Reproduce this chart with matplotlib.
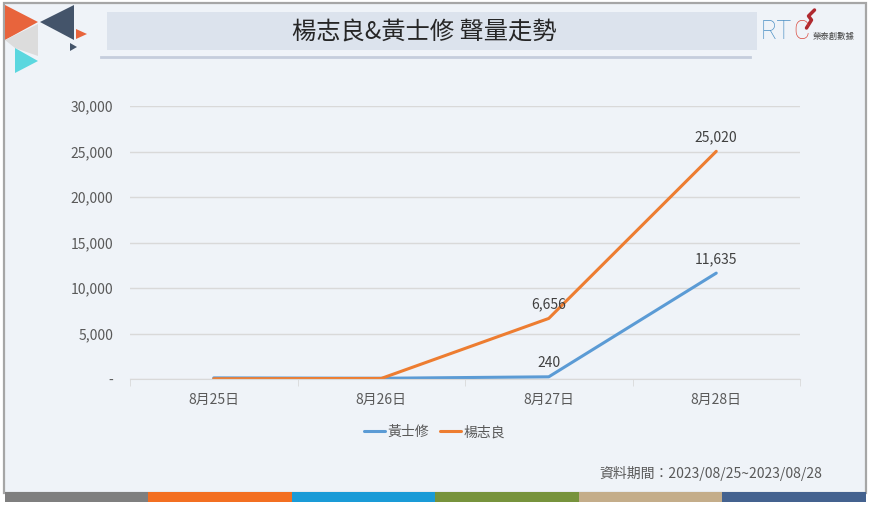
import matplotlib
matplotlib.use("Agg")
import matplotlib.pyplot as plt
from matplotlib.patches import Rectangle, Polygon
from matplotlib.ticker import FuncFormatter, FixedLocator

plt.rcParams['font.family'] = ['Noto Sans CJK TC', 'DejaVu Sans']

title = "楊志良&黃士修 聲量走勢"
categories = ["8月25日", "8月26日", "8月27日", "8月28日"]
series_names = ["黃士修", "楊志良"]
huang = [120, 80, 240, 11635]
yang = [30, 60, 6656, 25020]
footer = "資料期間：2023/08/25~2023/08/28"
stripe_colors = ["#7f7f7f", "#f36f21", "#1a9bd7", "#77933c", "#c4ad8a", "#44628f"]

W, H = 870, 505
fig = plt.figure(figsize=(W / 100, H / 100), dpi=100, facecolor="white")

bg = fig.add_axes([0, 0, 1, 1], zorder=0)
bg.set_xlim(0, W)
bg.set_ylim(H, 0)
bg.axis("off")

# background panel
bg.add_patch(Rectangle((4, 3), 862, 490, facecolor="#eff3f8", edgecolor="#a6a6a6", lw=1.6))
# bottom stripes
sx = 5
sw = (866 - 5) / len(stripe_colors)
for i, c in enumerate(stripe_colors):
    bg.add_patch(Rectangle((sx + i * sw, 492), sw, 10, facecolor=c, edgecolor="none"))

# title box
bg.add_patch(Rectangle((107, 12), 650, 38, facecolor="#dce3ed", edgecolor="none"))
bg.plot([101, 750], [57, 57], color="#c5cddc", lw=2)
bg.text(424, 32, title, ha="center", va="center", fontsize=17.5, color="#262626")

# logo top-left
bg.add_patch(Polygon([(5, 5), (5, 40), (38, 22)], closed=True, facecolor="#e8643c", edgecolor="none"))
bg.add_patch(Polygon([(40, 22), (74, 5), (74, 40)], closed=True, facecolor="#44546a", edgecolor="none"))
bg.add_patch(Polygon([(5, 40), (38, 24), (38, 56), (15, 48)], closed=True, facecolor="#dcdcdc", edgecolor="none"))
bg.add_patch(Polygon([(15, 48), (15, 73), (38, 61)], closed=True, facecolor="#5bd7df", edgecolor="none"))
bg.add_patch(Polygon([(76, 29), (76, 39), (87, 34)], closed=True, facecolor="#e8643c", edgecolor="none"))
bg.add_patch(Polygon([(70, 43), (70, 51), (77, 47)], closed=True, facecolor="#44546a", edgecolor="none"))

# logo top-right
rt = bg.text(761, 32, "RT", ha="left", va="center", fontsize=18, color="#4a8fc4",
             family=["Roboto", "DejaVu Sans"], fontweight="light", zorder=5)
renderer = fig.canvas.get_renderer()
ext = rt.get_window_extent(renderer=renderer)
c_x = ext.x1 + 1
cc = bg.text(c_x, 32, "C", ha="left", va="center", fontsize=18, color="#d9463a",
             family=["Roboto", "DejaVu Sans"], fontweight="light", zorder=5)
ext2 = cc.get_window_extent(renderer=renderer)
sw_x = ext2.x1
bg.plot([sw_x - 3, sw_x + 2, sw_x - 1, sw_x + 5], [28, 20, 16, 10], color="#b02a30", lw=2.5,
        solid_capstyle="round")
bg.text(sw_x + 3, 37, "榮泰創數據", ha="left", va="center", fontsize=6, color="#444444")

# footer
bg.text(822, 473, footer, ha="right", va="center", fontsize=10, color="#595959")

# main chart
ax = fig.add_axes([130 / W, 1 - 379 / H, 670 / W, 273 / H], zorder=2)
ax.set_facecolor("none")
x = list(range(len(categories)))
l1, = ax.plot(x, huang, color="#5b9bd5", lw=2.2, label=series_names[0], solid_capstyle="round")
l2, = ax.plot(x, yang, color="#ed7d31", lw=2.2, label=series_names[1], solid_capstyle="round")
ax.set_xlim(-0.5, len(categories) - 0.5)
ax.set_ylim(0, 30000)
ax.yaxis.set_major_locator(FixedLocator([0, 5000, 10000, 15000, 20000, 25000, 30000]))
ax.yaxis.set_major_formatter(FuncFormatter(lambda v, p: "-" if v == 0 else f"{int(v):,}"))
ax.set_xticks(x)
ax.set_xticklabels(categories)
ax.set_xticks([i - 0.5 for i in range(len(categories) + 1)], minor=True)
ax.tick_params(axis="x", which="major", length=0, pad=10, labelsize=10, labelcolor="#595959")
ax.tick_params(axis="x", which="minor", length=5, color="#d9d9d9", direction="out")
ax.tick_params(axis="y", length=0, pad=12, labelsize=10, labelcolor="#595959")
ax.grid(axis="y", color="#d9d9d9", lw=1)
ax.set_axisbelow(True)
for s in ["top", "right", "left"]:
    ax.spines[s].set_visible(False)
ax.spines["bottom"].set_color("#d9d9d9")

for i in [2, 3]:
    ax.annotate(f"{huang[i]:,}", (x[i], huang[i]), xytext=(0, 5), textcoords="offset points",
                ha="center", va="bottom", fontsize=10, color="#404040")
    ax.annotate(f"{yang[i]:,}", (x[i], yang[i]), xytext=(0, 5), textcoords="offset points",
                ha="center", va="bottom", fontsize=10, color="#404040")

leg = ax.legend(handles=[l1, l2], loc="center", bbox_to_anchor=(0.455, -0.195), ncol=2, frameon=False,
                fontsize=10, handlelength=1.5, handletextpad=0.2, columnspacing=0.8)
for t in leg.get_texts():
    t.set_color("#595959")

fig.savefig("out.png", dpi=100, facecolor="white")
